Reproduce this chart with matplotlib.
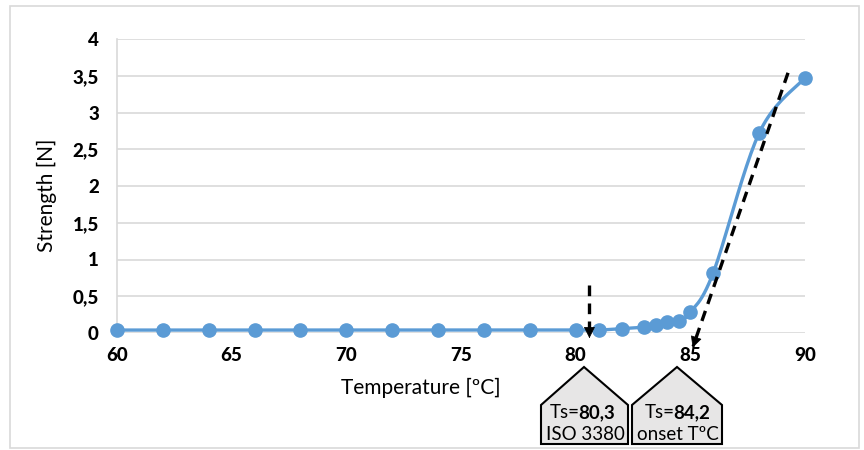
import matplotlib
matplotlib.use("Agg")
import matplotlib.pyplot as plt
from matplotlib.patches import Polygon, Rectangle
import numpy as np

plt.rcParams['font.family'] = ['Lato', 'DejaVu Sans']

# data
temps = [60, 62, 64, 66, 68, 70, 72, 74, 76, 78, 80, 81, 82, 83, 83.5, 84, 84.5, 85, 86, 88, 90]
strength = [0.04, 0.04, 0.04, 0.04, 0.04, 0.04, 0.04, 0.04, 0.04, 0.04, 0.04, 0.04,
            0.06, 0.08, 0.11, 0.15, 0.17, 0.28, 0.82, 2.72, 3.47]

y_ticks = [0, 0.5, 1, 1.5, 2, 2.5, 3, 3.5, 4]
y_labels = ['0', '0,5', '1', '1,5', '2', '2,5', '3', '3,5', '4']
x_ticks = [60, 65, 70, 75, 80, 85, 90]

# dashed arrows (start -> tip)
iso_arrow = [(80.6, 0.65), (80.6, -0.07)]
onset_arrow = [(89.26, 3.54), (85.1, -0.20)]

callouts = [('Ts=', '80,3', 'ISO 3380'), ('Ts=', '84,2', 'onset TºC')]

blue = '#5B9BD5'
W, H = 864, 450


def smooth(x, y, n=24):
    # catmull-rom through the points, just for the drawn line
    p = np.column_stack([x, y]).astype(float)
    out = []
    for i in range(len(p) - 1):
        p0 = p[i - 1] if i > 0 else p[i]
        p1, p2 = p[i], p[i + 1]
        p3 = p[i + 2] if i + 2 < len(p) else p[i + 1]
        t = np.linspace(0, 1, n)[:, None]
        c = 0.5 * ((2 * p1) + (-p0 + p2) * t + (2 * p0 - 5 * p1 + 4 * p2 - p3) * t ** 2
                   + (-p0 + 3 * p1 - 3 * p2 + p3) * t ** 3)
        out.append(c)
    c = np.vstack(out)
    return c[:, 0], c[:, 1]


def fx(px):
    return px / W


def fy(py):
    return 1 - py / H


fig = plt.figure(figsize=(8.64, 4.5), dpi=100)
ax = fig.add_axes([fx(117), fy(333), fx(805) - fx(117), fy(39) - fy(333)])

sx, sy = smooth(temps, strength)
ax.plot(sx, sy, color=blue, lw=2.4, clip_on=False, zorder=3)
ax.plot(temps, strength, 'o', color=blue, ms=9.5, clip_on=False, zorder=4)

for arr in [iso_arrow, onset_arrow]:
    (x0, y0), (x1, y1) = arr
    # stop the dashed line a bit short of the tip, head drawn separately
    xe = x1 + (x0 - x1) * 0.08 / np.hypot(x0 - x1, (y0 - y1) * 4)
    ye = y1 + (y0 - y1) * 0.08 / np.hypot(x0 - x1, (y0 - y1) * 4)
    ax.plot([x0, xe], [y0, ye], color='black', lw=2.4, ls=(0, (3.2, 2.2)),
            clip_on=False, zorder=5)
    ax.annotate('', xy=(x1, y1), xytext=(xe, ye),
                arrowprops=dict(arrowstyle='-|>', color='black', lw=0.5,
                                mutation_scale=18, shrinkA=0, shrinkB=0),
                annotation_clip=False, zorder=5)

ax.set_xlim(60, 90)
ax.set_ylim(0, 4)
ax.set_yticks(y_ticks)
ax.set_yticklabels(y_labels)
ax.set_xticks(x_ticks)
ax.tick_params(length=0, labelsize=13.5)
ax.tick_params(axis='y', pad=13)
ax.tick_params(axis='x', pad=10)
for lab in ax.get_xticklabels() + ax.get_yticklabels():
    lab.set_fontweight(900)
ax.grid(axis='y', color='#d9d9d9', lw=1.2)
ax.set_axisbelow(True)
for s in ['top', 'right', 'bottom']:
    ax.spines[s].set_visible(False)
ax.spines['left'].set_color('#d9d9d9')
ax.spines['left'].set_linewidth(1.2)

fig.text(fx(47), fy(195), 'Strength [N]', rotation=90, ha='center', va='center',
         fontsize=15)
fig.text(fx(421), fy(388), 'Temperature [ºC]', ha='center', va='center', fontsize=15)

# house-shaped callouts under the axis
boxes = [(541, 584, 628), (632, 677, 722)]
splits = [578, 673]
for (l, apex, r), sp, (t1, t2, t3) in zip(boxes, splits, callouts):
    pts = [(l, 405), (apex, 367), (r, 405), (r, 444), (l, 444)]
    poly = Polygon([(fx(a), fy(b)) for a, b in pts], closed=True,
                   transform=fig.transFigure, facecolor='#e7e6e6',
                   edgecolor='black', lw=1.5)
    fig.add_artist(poly)
    fig.text(fx(sp + 2), fy(413), t1, ha='right', va='center', fontsize=13.5)
    fig.text(fx(sp), fy(413), t2, ha='left', va='center', fontsize=13.5,
             fontweight='bold')
    fig.text(fx((l + r) / 2 + 1), fy(434), t3, ha='center', va='center', fontsize=13.5,
             clip_on=True)

fig.add_artist(Rectangle((fx(10), fy(448)), fx(859) - fx(10), fy(6) - fy(448),
                         transform=fig.transFigure, fill=False,
                         edgecolor='#d9d9d9', lw=1.2))

fig.savefig('out.png', dpi=100)
